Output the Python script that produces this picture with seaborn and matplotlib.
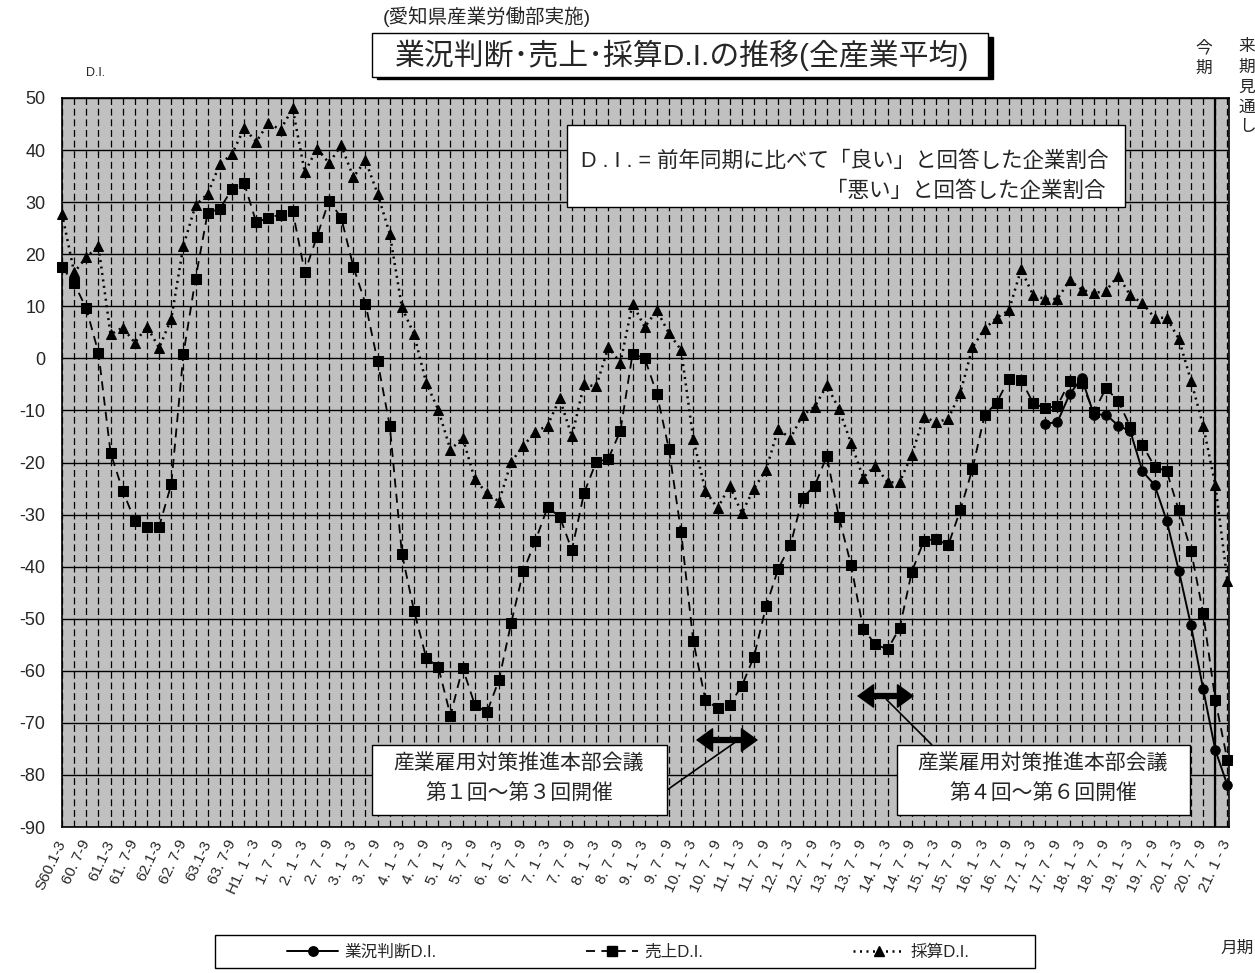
import matplotlib
matplotlib.use("Agg")
import matplotlib.pyplot as plt
from matplotlib.lines import Line2D
from matplotlib.patches import Rectangle, FancyArrowPatch
import seaborn as sns

W, H = 1255, 973

# 横軸ラベル（半年ごと、S60.1-3 ～ 21.1-3）
x_labels = ['S60.1-3', '60. 7-9', '61.1-3', '61. 7-9', '62.1-3', '62. 7-9',
            '63.1-3', '63. 7-9', 'H1. 1 - 3', '1. 7 - 9', '2. 1 - 3', '2. 7 - 9',
            '3. 1 - 3', '3. 7 - 9', '4. 1 - 3', '4. 7 - 9', '5. 1 - 3', '5. 7 - 9',
            '6. 1 - 3', '6. 7 - 9', '7. 1 - 3', '7. 7 - 9', '8. 1 - 3', '8. 7 - 9',
            '9. 1 - 3', '9. 7 - 9', '10. 1 - 3', '10. 7 - 9', '11. 1 - 3', '11. 7 - 9',
            '12. 1 - 3', '12. 7 - 9', '13. 1 - 3', '13. 7 - 9', '14. 1 - 3', '14. 7 - 9',
            '15. 1 - 3', '15. 7 - 9', '16. 1 - 3', '16. 7 - 9', '17. 1 - 3', '17. 7 - 9',
            '18. 1 - 3', '18. 7 - 9', '19. 1 - 3', '19. 7 - 9', '20. 1 - 3', '20. 7 - 9',
            '21. 1 - 3']

# 売上D.I.（四半期ごと）
uriage = [17.5, 14.4, 9.6, 1.1, -18.1, -25.4, -31.2, -32.3, -32.3, -24.2,
          0.8, 15.3, 28.0, 28.7, 32.5, 33.7, 26.1, 27.0, 27.6, 28.3,
          16.5, 23.4, 30.3, 27.0, 17.6, 10.5, -0.6, -13.0, -37.5, -48.5,
          -57.5, -59.3, -68.6, -59.4, -66.5, -68.0, -61.7, -50.8, -40.9, -35.0,
          -28.6, -30.4, -36.8, -25.9, -19.9, -19.3, -13.9, 0.9, 0.0, -6.8,
          -17.5, -33.4, -54.3, -65.6, -67.2, -66.5, -62.9, -57.3, -47.6, -40.4,
          -35.9, -26.8, -24.5, -18.8, -30.5, -39.7, -52.0, -54.9, -55.9, -51.8,
          -41.0, -35.0, -34.7, -35.9, -29.1, -21.2, -10.9, -8.5, -3.9, -4.1,
          -8.6, -9.6, -9.1, -4.4, -4.8, -10.3, -5.7, -8.2, -13.1, -16.6,
          -20.8, -21.7, -29.2, -36.9, -48.9, -65.6, -77.2]

# 採算D.I.
saisan = [27.8, 16.5, 19.4, 21.6, 4.6, 5.9, 3.0, 6.1, 2.0, 7.6,
          21.6, 29.4, 31.6, 37.3, 39.2, 44.2, 41.6, 45.2, 43.9, 48.0,
          35.7, 40.3, 37.5, 40.9, 34.8, 38.0, 31.6, 23.9, 9.8, 4.6,
          -4.7, -9.9, -17.6, -15.2, -23.2, -25.9, -27.5, -19.9, -16.8, -14.1,
          -12.9, -7.7, -15.0, -5.0, -5.4, 2.1, -0.8, 10.5, 6.0, 9.2,
          4.8, 1.6, -15.5, -25.4, -28.8, -24.5, -29.7, -25.0, -21.4, -13.5,
          -15.4, -10.9, -9.3, -5.2, -9.7, -16.3, -22.9, -20.6, -23.8, -23.8,
          -18.5, -11.2, -12.3, -11.6, -6.6, 2.1, 5.7, 7.8, 9.2, 17.1,
          12.1, 11.4, 11.4, 15.0, 13.2, 12.5, 13.0, 15.9, 12.1, 10.6,
          7.8, 7.8, 3.7, -4.3, -12.9, -24.3, -42.7]

# 業況判断D.I.（H17.4-6 から）
gyokyo_start = 81
gyokyo = [-12.6, -12.2, -6.9, -3.8, -10.8, -10.8, -12.9, -14.0, -21.7, -24.3,
          -31.2, -40.8, -51.3, -63.5, -75.2, -82.0]

series_names = ['業況判断D.I.', '売上D.I.', '採算D.I.']
y_ticks = [50, 40, 30, 20, 10, 0, -10, -20, -30, -40, -50, -60, -70, -80, -90]
y_labels = ['50', '40', '30', '20', '10', '0', '-10', '-20', '-30', '-40', '-50',
            '-60', '-70', '-80', '-90']
konki = 95  # 今期（20.10-12）


def fx(x, y):
    # 画像のピクセル座標 -> figure座標
    return (x / W, 1 - y / H)


def box(x0, y0, x1, y1, lw=1.0, fc='white', z=10):
    r = Rectangle(fx(x0, y1), (x1 - x0) / W, (y1 - y0) / H, transform=fig.transFigure,
                  facecolor=fc, edgecolor='black', lw=lw, zorder=z)
    fig.add_artist(r)


def fig_line(x0, y0, x1, y1, lw=1.2, z=9):
    fig.add_artist(Line2D([x0 / W, x1 / W], [1 - y0 / H, 1 - y1 / H], color='black',
                          lw=lw, transform=fig.transFigure, zorder=z,
                          solid_capstyle='butt'))


sns.set_style("white")
plt.rcParams['font.family'] = ['Liberation Sans', 'Noto Sans CJK JP']
plt.rcParams['axes.unicode_minus'] = False

fig = plt.figure(figsize=(W / 100, H / 100), dpi=100)
ax = fig.add_axes([62 / W, 1 - 827 / H, (1229 - 62) / W, (827 - 98) / H])
ax.set_facecolor('#c0c0c0')

idx = list(range(len(uriage)))
gx = list(range(gyokyo_start, gyokyo_start + len(gyokyo)))

sns.lineplot(x=gx, y=gyokyo, ax=ax, color='black', lw=1.4, marker='o', markersize=6.8,
             markeredgecolor='black', clip_on=False, zorder=6)
sns.lineplot(x=idx, y=uriage, ax=ax, color='black', lw=1.3, linestyle=(0, (5, 3.5)),
             marker='s', markersize=7.0, markeredgecolor='black', clip_on=False, zorder=5)
sns.lineplot(x=idx, y=saisan, ax=ax, color='black', lw=1.8, linestyle=(0, (0.8, 1.8)),
             marker='^', markersize=7.6, markeredgecolor='black', clip_on=False, zorder=5)

ax.axvline(konki, color='black', lw=1.6, zorder=4)

ax.set_xlim(0, 96.13)
ax.set_ylim(-90, 50)
ax.set_xticks(idx)
ax.set_xticklabels([x_labels[i // 2] if i % 2 == 0 else '' for i in idx],
                   rotation=65, ha='right', va='center', rotation_mode='anchor', fontsize=11)
ax.set_yticks(y_ticks)
ax.set_yticklabels(y_labels, fontsize=13)
ax.tick_params(axis='x', length=0, pad=10)
ax.tick_params(axis='y', length=0, pad=12)
ax.grid(axis='x', color='black', lw=0.9, ls=(0, (5.5, 3)))
ax.grid(axis='y', color='black', lw=1.0, ls='-')
ax.set_axisbelow(True)
ax.set_xlabel('')
ax.set_ylabel('')
for s in ax.spines.values():
    s.set_color('black')
    s.set_linewidth(1.2)

# タイトル
fig.text(*fx(383, 17), '(愛知県産業労働部実施)', fontsize=14, ha='left', va='center')
box(377, 37, 993, 79, fc='black', z=9)
box(372, 33, 988, 77, lw=1.0)
fig.text(*fx(682, 55), '業況判断･売上･採算D.I.の推移(全産業平均)', fontsize=21.5,
         ha='center', va='center', zorder=11)
fig.text(*fx(86, 73), 'D.I.', fontsize=9, ha='left', va='center')

# 今期・来期見通し
for k, ch in enumerate('今期'):
    fig.text(*fx(1204, 47 + 21 * k), ch, fontsize=12, ha='center', va='center')
for k, ch in enumerate('来期見通し'):
    fig.text(*fx(1247, 47 + 20 * k), ch, fontsize=12, ha='center', va='center')

# D.I.の説明
box(567, 125, 1125, 207)
fig.text(*fx(581, 161), 'D . I . = 前年同期に比べて「良い」と回答した企業割合', fontsize=15.5,
         ha='left', va='center', zorder=11)
fig.text(*fx(1106, 191), '「悪い」と回答した企業割合', fontsize=15.5,
         ha='right', va='center', zorder=11)

# 本部会議の注記
fig_line(667, 790, 737, 741)
fig_line(886, 699, 932, 745)
box(372, 745, 667, 815)
box(897, 745, 1190, 815)
for cx, txt in [(519, '第１回～第３回開催'), (1043, '第４回～第６回開催')]:
    fig.text(*fx(cx, 763), '産業雇用対策推進本部会議', fontsize=15, ha='center',
             va='center', zorder=11)
    fig.text(*fx(cx, 793), txt, fontsize=15, ha='center', va='center', zorder=11)
for x0, x1, y in [(696, 758, 740), (857, 914, 696)]:
    fig_line(x0 + 10, y, x1 - 10, y, lw=4.5, z=8)
    fig.add_artist(FancyArrowPatch(fx(x0, y), fx(x1, y), transform=fig.transFigure,
                                   arrowstyle='<|-|>,head_length=0.85,head_width=0.62',
                                   mutation_scale=13, lw=1, color='black',
                                   shrinkA=0, shrinkB=0, zorder=8))

# 凡例
handles = [
    Line2D([], [], color='black', lw=1.4, marker='o', markersize=6.8),
    Line2D([], [], color='black', lw=1.3, ls=(0, (5, 3.5)), marker='s', markersize=7.0),
    Line2D([], [], color='black', lw=1.8, ls=(0, (0.8, 1.8)), marker='^', markersize=7.6),
]
box(215, 935, 1035, 968, z=3)
leg = fig.legend(handles, series_names, loc='center', ncol=3,
                 bbox_to_anchor=fx(628, 952), fontsize=12, handlelength=3.1,
                 handletextpad=0.35, columnspacing=9.0, frameon=False)
leg.set_zorder(4)

fig.text(*fx(1237, 948), '月期', fontsize=12, ha='center', va='center')

fig.savefig('out.png', dpi=100)
